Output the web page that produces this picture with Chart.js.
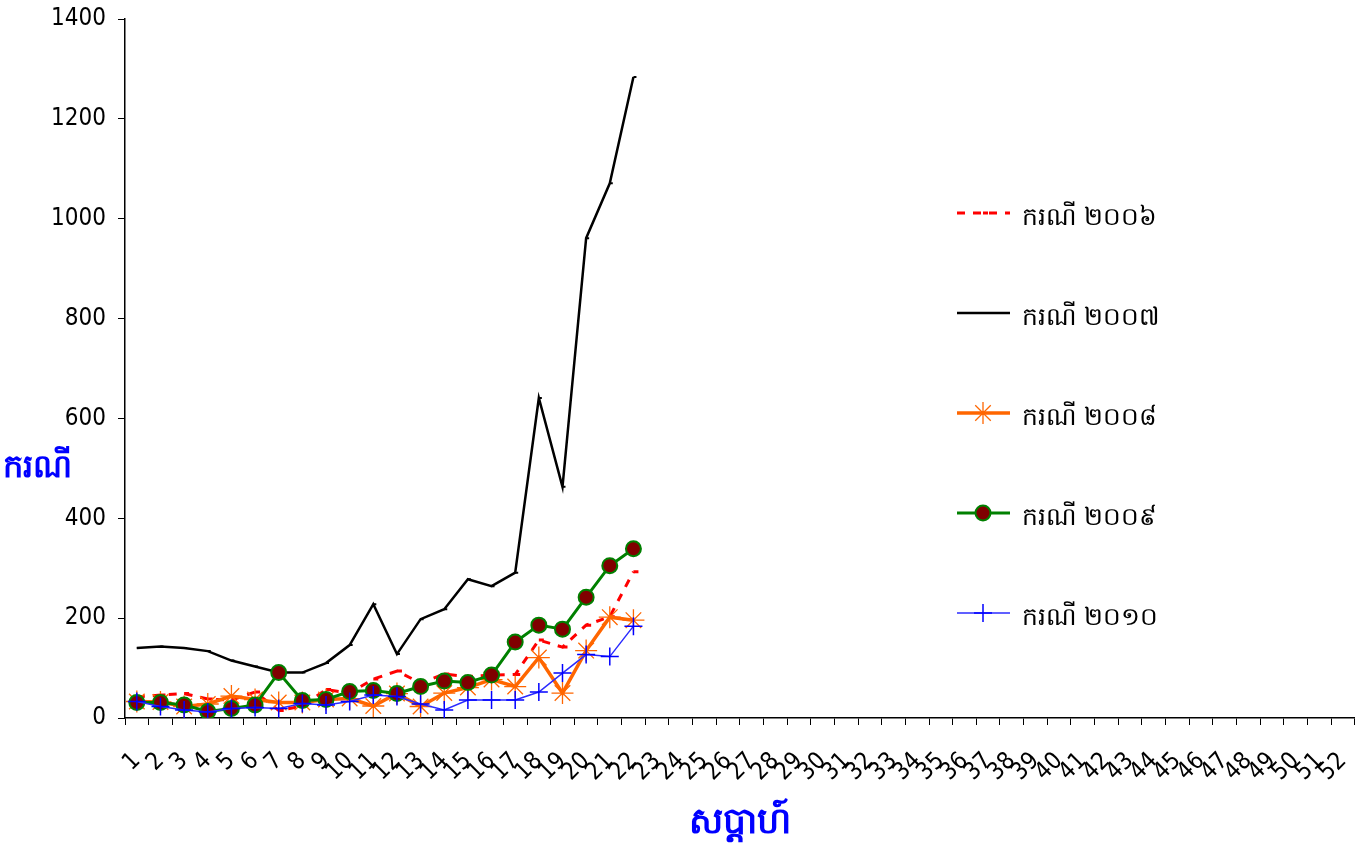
<!DOCTYPE html>
<html>
<head>
<meta charset="utf-8">
<title>ករណី</title>
<script src="https://cdn.jsdelivr.net/npm/chart.js@4/dist/chart.umd.min.js"></script>
<style>
  body { margin: 0; background: #fff; }
  #wrap { width: 1367px; height: 854px; }
</style>
</head>
<body>
<div id="wrap"><canvas id="chart" width="1367" height="854"></canvas></div>
<script>
/* ===== data ===== */
const weeks = Array.from({ length: 52 }, (_, i) => String(i + 1));
const yTicks = [0, 200, 400, 600, 800, 1000, 1200, 1400];

const cases2006 = [42, 46, 49, 38, 36, 52, 15, 24, 57, 50, 78, 94, 70, 88, 83, 86, 87, 156, 142, 186, 203, 293];
const cases2007 = [140, 143, 140, 134, 115, 103, 91, 91, 110, 146, 228, 128, 198, 218, 278, 264, 291, 641, 463, 961, 1071, 1284];
const cases2008 = [33, 32, 23, 28, 44, 37, 31, 31, 37, 39, 24, 49, 23, 50, 61, 77, 63, 121, 50, 135, 202, 196];
const cases2009 = [31, 31, 26, 13, 19, 26, 91, 35, 37, 53, 55, 49, 63, 74, 71, 86, 152, 186, 178, 242, 305, 339];
const cases2010 = [33, 23, 16, 12, 19, 21, 19, 29, 26, 33, 46, 43, 28, 16, 36, 36, 36, 52, 90, 127, 123, 184];

const seriesNames = ['ករណី ២០០៦', 'ករណី ២០០៧', 'ករណី ២០០៨', 'ករណី ២០០៩', 'ករណី ២០១០'];
const xTitle = 'សប្តាហ៍';
const yTitle = 'ករណី';

const numFont = "'DejaVu Sans Condensed', 'Liberation Sans Narrow', 'Arial Narrow', sans-serif";

/* ===== legend + horizontal y title, drawn inside the plot like the original ===== */
const sideLegend = {
  id: 'sideLegend',
  afterDraw(chart) {
    const ctx = chart.ctx;
    ctx.save();
    ctx.fillStyle = '#0000ff';
    ctx.font = "bold 32px 'Noto Sans', sans-serif";
    ctx.textAlign = 'center';
    ctx.textBaseline = 'middle';
    ctx.fillText(yTitle, 37, 468);

    chart.data.datasets.forEach((ds, i) => {
      const y = 213 + i * 100;
      ctx.setLineDash(ds.borderDash || []);
      ctx.strokeStyle = ds.borderColor;
      ctx.lineWidth = ds.borderWidth;
      ctx.beginPath();
      ctx.moveTo(957, y);
      ctx.lineTo(1010, y);
      ctx.stroke();
      ctx.setLineDash([]);
      if (ds.pointRadius > 0 && Chart.helpers && Chart.helpers.drawPoint) {
        ctx.fillStyle = ds.pointBackgroundColor;
        ctx.strokeStyle = ds.pointBorderColor;
        ctx.lineWidth = ds.pointBorderWidth;
        Chart.helpers.drawPoint(ctx, {
          pointStyle: ds.pointStyle, radius: ds.pointRadius,
          borderWidth: ds.pointBorderWidth, rotation: 0
        }, 983, y);
      }
      ctx.fillStyle = '#000';
      ctx.font = "25px 'Noto Sans', sans-serif";
      ctx.textAlign = 'left';
      ctx.textBaseline = 'middle';
      ctx.fillText(ds.label, 1022, y + 5);
    });
    ctx.restore();
  }
};

new Chart(document.getElementById('chart'), {
  type: 'line',
  data: {
    labels: weeks,
    datasets: [
      {
        label: seriesNames[0], data: cases2006, order: 5,
        borderColor: '#ff0000', borderWidth: 3, borderDash: [8, 8],
        pointStyle: 'dash', pointRadius: 5, pointBorderWidth: 3,
        pointBorderColor: '#ff0000', pointBackgroundColor: '#ff0000'
      },
      {
        label: seriesNames[1], data: cases2007, order: 4,
        borderColor: '#000000', borderWidth: 2.5,
        pointStyle: 'dash', pointRadius: 3, pointBorderWidth: 2,
        pointBorderColor: '#000000', pointBackgroundColor: '#000000'
      },
      {
        label: seriesNames[2], data: cases2008, order: 3,
        borderColor: '#ff6600', borderWidth: 3.5,
        pointStyle: 'star', pointRadius: 11, pointBorderWidth: 1.3,
        pointBorderColor: '#ff6600', pointBackgroundColor: '#ff6600'
      },
      {
        label: seriesNames[3], data: cases2009, order: 2,
        borderColor: '#008000', borderWidth: 3,
        pointStyle: 'circle', pointRadius: 7.5, pointBorderWidth: 2,
        pointBorderColor: '#008000', pointBackgroundColor: '#800000'
      },
      {
        label: seriesNames[4], data: cases2010, order: 1,
        borderColor: '#2b2bff', borderWidth: 1.5,
        pointStyle: 'cross', pointRadius: 9, pointBorderWidth: 1.5,
        pointBorderColor: '#0000ff', pointBackgroundColor: '#0000ff'
      }
    ]
  },
  options: {
    responsive: false,
    devicePixelRatio: 1,
    animation: false,
    layout: { padding: { top: 19, right: 12, left: 0, bottom: 0 } },
    plugins: {
      legend: { display: false },
      tooltip: { enabled: false }
    },
    scales: {
      x: {
        offset: true,
        grid: { offset: true, drawOnChartArea: false, color: '#000', tickLength: 7, tickWidth: 1 },
        border: { color: '#000', width: 1.5 },
        ticks: {
          autoSkip: false, maxRotation: 45, minRotation: 45, padding: 22,
          color: '#000', font: { family: numFont, size: 24 }
        },
        title: {
          display: true, text: xTitle, color: '#0000ff',
          font: { family: "'Noto Sans', sans-serif", size: 36, weight: 'bold' },
          padding: { top: 0, bottom: 10 }
        },
        afterFit(scale) {
          scale.height = 136;
          scale.paddingLeft = 0;
          scale.paddingRight = 0;
        }
      },
      y: {
        min: 0, max: 1400,
        afterBuildTicks(scale) { scale.ticks = yTicks.map(v => ({ value: v })); },
        grid: { drawOnChartArea: false, color: '#000', tickLength: 7 },
        border: { color: '#000', width: 1.5 },
        ticks: {
          padding: 12, color: '#000', font: { family: numFont, size: 24 },
          callback: v => String(v)
        },
        afterFit(scale) {
          scale.width = 125;
          scale.paddingTop = 0;
          scale.paddingBottom = 0;
        }
      }
    }
  },
  plugins: [sideLegend]
});
</script>
</body>
</html>
